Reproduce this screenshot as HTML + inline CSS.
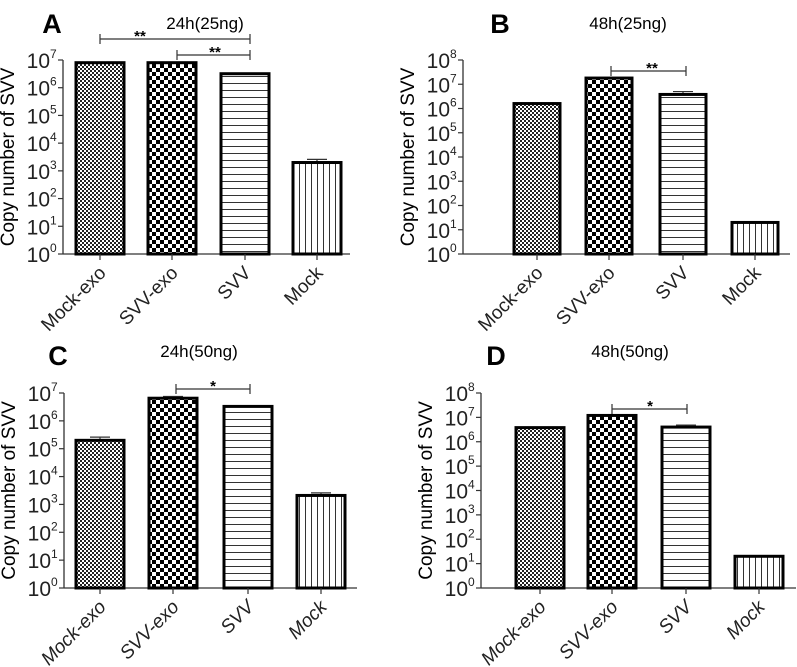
<!DOCTYPE html>
<html><head><meta charset="utf-8">
<style>
html,body{margin:0;padding:0;background:#fff;}
svg{display:block;font-family:"Liberation Sans",sans-serif;}
</style></head>
<body>
<svg id="chart" width="797" height="667" viewBox="0 0 797 667" xmlns="http://www.w3.org/2000/svg">
<defs>
<pattern id="pFine" width="4" height="4" patternUnits="userSpaceOnUse"><rect width="4" height="4" fill="#fff"/><rect width="2" height="2" fill="#222"/><rect x="2" y="2" width="2" height="2" fill="#222"/></pattern>
<pattern id="pCheck" width="8" height="8" patternUnits="userSpaceOnUse"><rect width="8" height="8" fill="#fff"/><rect width="4" height="4" fill="#000"/><rect x="4" y="4" width="4" height="4" fill="#000"/></pattern>
<pattern id="pHor" width="8" height="7" patternUnits="userSpaceOnUse"><rect width="8" height="7" fill="#fff"/><rect y="6" width="8" height="1.2" fill="#333"/></pattern>
<pattern id="pVer" width="6" height="8" patternUnits="userSpaceOnUse"><rect width="6" height="8" fill="#fff"/><rect x="5" width="1.2" height="8" fill="#333"/></pattern>
</defs>
</svg>
<script>
const categories = ["Mock-exo","SVV-exo","SVV","Mock"];
const valuesA = [8e6, 8e6, 3.2e6, 2e3];
const errorsA = [8.2e6, 8.2e6, 3.3e6, 2.6e3];
const valuesB = [1.6e6, 1.8e7, 3.8e6, 20];
const errorsB = [1.65e6, 1.85e7, 5e6, 21];
const valuesC = [2e5, 6.5e6, 3.3e6, 2.1e3];
const errorsC = [2.6e5, 7.5e6, 3.4e6, 2.6e3];
const valuesD = [3.8e6, 1.2e7, 4e6, 20];
const errorsD = [4e6, 1.25e7, 4.8e6, 21];
const titles = ["24h(25ng)","48h(25ng)","24h(50ng)","48h(50ng)"];
const letters = ["A","B","C","D"];
const maxExp = [7, 8, 7, 8];

const NS = "http://www.w3.org/2000/svg";
const svg = document.getElementById("chart");
function mk(tag, attrs, parent){
  const e = document.createElementNS(NS, tag);
  for (const k in attrs) e.setAttribute(k, attrs[k]);
  (parent||svg).appendChild(e);
  return e;
}
const fills = ["url(#pFine)","url(#pCheck)","url(#pHor)","url(#pVer)"];

const panels = [
  {vals:valuesA, errs:errorsA, ax:63, ay0:254, ayTop:60, xEnd:350, ticks:[100,172,245,317], bw:48, italic:false,
   title:[205,29], letter:[52,33], brackets:[[100,250,39,"**",140],[177,250,55,"**",215]]},
  {vals:valuesB, errs:errorsB, ax:463, ay0:254, ayTop:60, xEnd:790, ticks:[537,609,683,755], bw:46, italic:false,
   title:[628,29], letter:[500,33], brackets:[[611,686,71,"**",652]]},
  {vals:valuesC, errs:errorsC, ax:64, ay0:588, ayTop:393, xEnd:357, ticks:[100,173,248,321], bw:48, italic:true,
   title:[199,357], letter:[58,365], brackets:[[176,250,389,"*",213]]},
  {vals:valuesD, errs:errorsD, ax:481, ay0:588, ayTop:393, xEnd:796, ticks:[540,612,686,759], bw:48, italic:true,
   title:[630,357], letter:[496,365], brackets:[[612,687,409,"*",650]]}
];

panels.forEach((p, pi) => {
  const g = mk("g", {});
  
  
  const me = maxExp[pi];
  const y = v => p.ay0 - (Math.log10(v) / me) * (p.ay0 - p.ayTop);

  const L = mk("text", {x:p.letter[0], y:p.letter[1], "font-size":27, "font-weight":"bold", "text-anchor":"middle"}, g);
  L.textContent = letters[pi];
  
  
  const T = mk("text", {x:p.title[0], y:p.title[1], "font-size":17, "text-anchor":"middle"}, g);
  T.textContent = titles[pi];
  
  

  const yt = mk("text", {x:0, y:0, "font-size":19, "text-anchor":"middle", transform:`translate(${p.ax-49},${(p.ay0+p.ayTop)/2}) rotate(-90)`}, g);
  yt.textContent = "Copy number of SVV";
  
  

  const ya = mk("line", {x1:p.ax, y1:p.ayTop, x2:p.ax, y2:p.ay0, stroke:"#333", "stroke-width":1.3}, g);
  
  
  const xa = mk("line", {x1:p.ax, y1:p.ay0, x2:p.xEnd, y2:p.ay0, stroke:"#333", "stroke-width":1.3}, g);
  
  

  for (let e = 0; e <= me; e++) {
    const ty = y(Math.pow(10, e));
    mk("line", {x1:p.ax-5, y1:ty, x2:p.ax, y2:ty, stroke:"#333", "stroke-width":1.2}, g);
    const t = mk("text", {x:p.ax-13, y:ty+8, "font-size":21, "text-anchor":"end", fill:"#222"}, g);
    t.textContent = "10";
    
    
    const s = mk("text", {x:p.ax-13, y:ty-2, "font-size":12, "text-anchor":"start", fill:"#222"}, g);
    s.textContent = String(e);
    
    
  }

  p.vals.forEach((v, i) => {
    const cx = p.ticks[i];
    const top = y(v);
    const et = y(p.errs[i]);
    const el = mk("line", {x1:cx, y1:et, x2:cx, y2:top, stroke:"#333", "stroke-width":1.2}, g);
    
    
    mk("line", {x1:cx-10, y1:et, x2:cx+10, y2:et, stroke:"#333", "stroke-width":1.2}, g);
    const r = mk("rect", {x:cx-p.bw/2, y:top, width:p.bw, height:p.ay0-top, fill:fills[i], stroke:"#000", "stroke-width":3}, g);
    
    
    mk("line", {x1:cx, y1:p.ay0, x2:cx, y2:p.ay0+6, stroke:"#333", "stroke-width":1.2}, g);
    const lb = mk("text", {x:0, y:0, "font-size":19, "text-anchor":"end", "font-style":p.italic?"italic":"normal", fill:"#222",
      transform:`translate(${cx+7},${p.ay0+20}) rotate(-45)`}, g);
    lb.textContent = categories[i];
    
    
  });

  p.brackets.forEach(b => {
    const bl = mk("path", {d:`M${b[0]},${b[2]-5}V${b[2]+5}M${b[0]},${b[2]}H${b[1]}M${b[1]},${b[2]-5}V${b[2]+5}`, stroke:"#333", "stroke-width":1.2, fill:"none"}, g);
    
    
    const st = mk("text", {x:b[4], y:b[2]+2, "font-size":15, "font-weight":"bold", "text-anchor":"middle"}, g);
    st.textContent = b[3];
    
    
  });
});
</script>
</body></html>
